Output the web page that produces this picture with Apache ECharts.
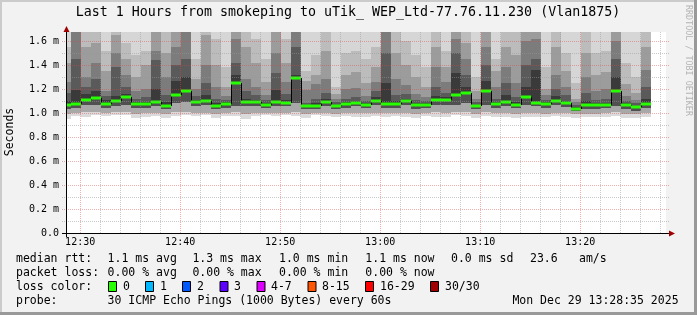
<!DOCTYPE html>
<html><head><meta charset="utf-8">
<script src="https://cdn.jsdelivr.net/npm/echarts@6/dist/echarts.min.js"></script>
<style>html,body{margin:0;padding:0;background:#f2f2f2}#c{width:697px;height:315px}</style>
</head><body><div id="c"></div>
<script>
// ---- axis / time settings (minutes after 12:00) ----
const windowStartLabel = '12:28:35';
const firstBarLabel = '12:28';
const xTickLabels = ['12:30','12:40','12:50','13:00','13:10','13:20'];
const yTickValues = [0, 0.2, 0.4, 0.6, 0.8, 1.0, 1.2, 1.4, 1.6];

// ---- median rtt per minute (ms) ----
const median = [1.064,1.075,1.106,1.122,1.075,1.097,1.131,1.075,1.075,1.092,
 1.058,1.147,1.180,1.092,1.100,1.056,1.072,1.247,1.092,1.092,
 1.067,1.092,1.086,1.294,1.056,1.056,1.092,1.056,1.075,1.086,
 1.067,1.100,1.075,1.075,1.100,1.064,1.067,1.106,1.106,1.147,
 1.169,1.058,1.180,1.075,1.092,1.067,1.133,1.086,1.075,1.103,
 1.083,1.036,1.064,1.064,1.067,1.180,1.064,1.047,1.072];
// ---- smoke: lower ping ranks (lightest bottom -> darkest) ----
const low3 = [0.95,0.978,0.97,0.985,0.975,0.985,0.98,0.96,0.967,0.978,
 0.955,0.978,0.985,0.978,0.98,0.96,0.978,0.978,0.95,0.978,
 0.98,0.978,0.98,0.978,0.955,0.98,0.975,0.97,0.975,0.97,
 0.965,0.975,0.97,0.975,0.97,0.96,0.975,0.97,0.97,0.98,
 0.975,0.96,0.975,0.965,0.97,0.96,0.97,0.97,0.965,0.975,
 0.97,0.955,0.965,0.97,0.97,0.975,0.96,0.955,0.965];
const low2 = [0.99,1.0,1.005,1.01,1.0,1.005,1.005,0.995,1.0,1.0,
 0.99,1.005,1.01,1.0,1.0,0.99,1.0,1.005,0.995,1.0,
 1.0,1.0,1.0,1.01,0.99,1.0,1.0,0.995,1.0,1.0,
 1.0,1.0,1.0,1.0,1.0,0.995,1.0,1.005,1.0,1.005,
 1.005,0.995,1.005,1.0,1.0,0.995,1.0,1.0,0.995,1.0,
 1.0,0.99,0.995,0.995,1.0,1.005,0.995,0.99,1.0];
const low1 = [1.035,1.045,1.07,1.07,1.045,1.06,1.07,1.045,1.045,1.06,
 1.03,1.08,1.09,1.06,1.065,1.03,1.045,1.06,1.06,1.06,
 1.04,1.06,1.055,1.08,1.03,1.03,1.06,1.03,1.045,1.055,
 1.04,1.065,1.045,1.045,1.065,1.035,1.04,1.07,1.07,1.07,
 1.08,1.03,1.07,1.045,1.06,1.04,1.07,1.055,1.045,1.07,
 1.05,1.015,1.035,1.035,1.04,1.06,1.035,1.02,1.045];
// ---- smoke: upper ping ranks (darkest -> lightest) ----
const up1 = [1.10,1.19,1.16,1.18,1.11,1.14,1.16,1.09,1.09,1.20,
 1.09,1.27,1.30,1.11,1.15,1.08,1.09,1.32,1.12,1.11,
 1.08,1.19,1.11,1.32,1.07,1.08,1.12,1.07,1.09,1.10,
 1.08,1.13,1.25,1.10,1.12,1.08,1.08,1.14,1.13,1.33,
 1.22,1.07,1.27,1.09,1.15,1.09,1.22,1.36,1.09,1.14,
 1.10,1.05,1.10,1.08,1.08,1.30,1.08,1.06,1.12];
const up2 = [1.17,1.45,1.22,1.28,1.14,1.38,1.22,1.12,1.13,1.44,
 1.15,1.40,1.45,1.14,1.25,1.12,1.11,1.42,1.18,1.15,
 1.11,1.33,1.16,1.55,1.08,1.12,1.17,1.09,1.12,1.13,
 1.10,1.18,1.50,1.15,1.16,1.11,1.10,1.22,1.17,1.50,
 1.32,1.09,1.40,1.12,1.25,1.13,1.40,1.45,1.11,1.20,
 1.15,1.07,1.17,1.11,1.12,1.45,1.10,1.08,1.22];
const up3 = [1.26,1.70,1.30,1.42,1.18,1.50,1.32,1.18,1.20,1.52,
 1.30,1.55,1.68,1.20,1.40,1.22,1.14,1.62,1.28,1.22,
 1.15,1.50,1.26,1.70,1.19,1.24,1.28,1.12,1.20,1.21,
 1.14,1.26,1.70,1.28,1.23,1.16,1.13,1.38,1.26,1.62,
 1.45,1.12,1.55,1.22,1.38,1.25,1.60,1.62,1.15,1.32,
 1.22,1.09,1.30,1.18,1.20,1.60,1.14,1.11,1.36];
const up4 = [1.42,1.75,1.55,1.58,1.35,1.65,1.45,1.30,1.40,1.68,
 1.50,1.72,1.75,1.28,1.65,1.40,1.22,1.75,1.55,1.42,
 1.26,1.68,1.42,1.75,1.27,1.32,1.52,1.16,1.32,1.34,
 1.25,1.38,1.75,1.50,1.40,1.30,1.22,1.55,1.38,1.72,
 1.58,1.18,1.68,1.35,1.55,1.48,1.72,1.72,1.20,1.55,
 1.35,1.12,1.50,1.32,1.34,1.72,1.24,1.17,1.55];
const up5 = [1.55,1.80,1.70,1.72,1.52,1.75,1.58,1.48,1.52,1.75,
 1.70,1.80,1.80,1.45,1.75,1.62,1.38,1.80,1.72,1.62,
 1.45,1.75,1.62,1.80,1.35,1.48,1.70,1.22,1.50,1.52,
 1.45,1.55,1.80,1.70,1.60,1.48,1.38,1.70,1.52,1.80,
 1.72,1.30,1.75,1.45,1.70,1.70,1.80,1.80,1.38,1.70,
 1.50,1.25,1.68,1.50,1.52,1.80,1.42,1.30,1.70];

// ---- helpers ----
function toMin(s){ const p = s.split(':').map(Number); return (p[0]-12)*60 + p[1] + (p[2]||0)/60; }
function fmtMin(v){ const t = Math.round(v); return (12+Math.floor(t/60)) + ':' + String(t%60).padStart(2,'0'); }
const xMin = toMin(windowStartLabel);
const xMax = xMin + 60;
const firstBar = toMin(firstBarLabel);
const Y_MAX = 1.675;
const MONO = '"DejaVu Sans Mono", monospace';
const SMOKE = ['#dadada','#a8a8a8','#505050','#3a3a3a','#5a5a5a','#7c7c7c','#9c9c9c','#bcbcbc','#d6d6d6'];

const bars = median.map((m, i) => [firstBar+i, firstBar+i+1, m, low3[i], low2[i], low1[i],
  up1[i], up2[i], up3[i], up4[i], up5[i], i > 0 ? median[i-1] : m]);

const gridItems = [];
for (let m = Math.ceil(xMin/2)*2; m < xMax; m += 2) gridItems.push([0, m, m % 10 === 0 ? 1 : 0]);
for (let k = 1; k <= 16; k++) gridItems.push([1, k/10, k % 2 === 0 ? 1 : 0]);

function renderSmoke(params, api){
  const x0 = api.value(0), x1 = api.value(1), m = api.value(2);
  const lv = [api.value(3), api.value(4), api.value(5), m, api.value(6), api.value(7),
              api.value(8), api.value(9), api.value(10), Y_MAX];
  const left = Math.ceil(api.coord([x0, 0])[0]);
  const right = Math.ceil(api.coord([x1, 0])[0]);
  const ch = [];
  for (let j = 0; j < lv.length-1; j++){
    const lo = Math.min(lv[j], Y_MAX), hi = Math.min(lv[j+1], Y_MAX);
    if (hi <= lo) continue;
    const yb = Math.round(api.coord([x0, lo])[1]);
    const yt = Math.round(api.coord([x0, hi])[1]);
    ch.push({type:'rect', shape:{x:left, y:yt, width:right-left, height:yb-yt}, style:{fill:SMOKE[j]}});
  }
  const ym = Math.round(api.coord([x0, m])[1]);
  const yp = Math.round(api.coord([x0, api.value(11)])[1]);
  if (yp !== ym) ch.push({type:'line', shape:{x1:left+0.5, y1:yp, x2:left+0.5, y2:ym}, style:{stroke:'#000', lineWidth:1}});
  ch.push({type:'rect', shape:{x:left, y:ym-1.5, width:right-left, height:3}, style:{fill:'#26ff00'}});
  return {type:'group', children: ch};
}

function renderGrid(params, api){
  const kind = api.value(0), v = api.value(1), major = api.value(2);
  const stroke = major ? 'rgba(225,70,70,0.42)' : 'rgba(150,150,150,0.5)';
  if (kind === 0){
    const p = api.coord([v, 0]), q = api.coord([v, Y_MAX]);
    const x = Math.round(p[0]) + 0.5;
    return {type:'line', shape:{x1:x, y1:p[1], x2:x, y2:q[1]}, style:{stroke, lineWidth:1, lineDash:[1,1]}};
  }
  const p = api.coord([xMin, v]), q = api.coord([xMax, v]);
  const y = Math.round(p[1]) + 0.5;
  return {type:'line', shape:{x1:p[0]-4, y1:y, x2:q[0]+3, y2:y}, style:{stroke, lineWidth:1, lineDash:[1,1]}};
}

const chart = echarts.init(document.getElementById('c'));
const txt = (x, y, s) => ({type:'text', x, y, style:{text:s, font:'11.5px '+MONO, fill:'#000', textVerticalAlign:'middle'}});
const lossColors = [['0','#26ff00',108,123],['1','#00b8ff',145,160],['2','#0059ff',182,197],['3','#5e00ff',219.5,234],
  ['4-7','#dd00ff',256.5,271],['8-15','#ff5500',307.5,322],['16-29','#ff0000',365,380],['30/30','#a00000',430,445]];
const graphics = [
  {type:'rect', shape:{x:0,y:0,width:697,height:2}, style:{fill:'#cbcbcb'}},
  {type:'rect', shape:{x:0,y:0,width:2,height:315}, style:{fill:'#cbcbcb'}},
  {type:'rect', shape:{x:694,y:0,width:3,height:315}, style:{fill:'#999'}},
  {type:'rect', shape:{x:0,y:312,width:697,height:3}, style:{fill:'#999'}},
  {type:'text', x:348, y:13, style:{text:'Last 1 Hours from smokeping to uTik_ WEP_Ltd-77.76.11.230 (Vlan1875)', font:'13.3px '+MONO, fill:'#000', textAlign:'center', textVerticalAlign:'middle'}},
  {type:'text', x:688, y:5, rotation:-Math.PI/2, style:{text:'RRDTOOL / TOBI OETIKER', font:'8.4px '+MONO, fill:'#b4b4b4', textAlign:'left', textVerticalAlign:'middle'}},
  {type:'text', x:10, y:132, rotation:Math.PI/2, style:{text:'Seconds', font:'11.5px '+MONO, fill:'#000', textAlign:'center', textVerticalAlign:'middle'}},
  {type:'line', shape:{x1:62, y1:233.5, x2:670, y2:233.5}, style:{stroke:'#000', lineWidth:1}, z:10},
  {type:'line', shape:{x1:66.5, y1:237, x2:66.5, y2:31}, style:{stroke:'#000', lineWidth:1}, z:10},
  {type:'polygon', shape:{points:[[669,230.5],[675,233.5],[669,236.5]]}, style:{fill:'#a00000'}, z:10},
  {type:'polygon', shape:{points:[[63.5,32],[66.5,26],[69.5,32]]}, style:{fill:'#a00000'}, z:10},
  txt(16,259,'median rtt:'), txt(107.6,259,'1.1 ms avg'), txt(192.4,259,'1.3 ms max'), txt(279,259,'1.0 ms min'),
  txt(365.3,259,'1.1 ms now'), txt(451,259,'0.0 ms sd'), txt(530,259,'23.6'), txt(579,259,'am/s'),
  txt(16,273,'packet loss:'), txt(107.6,273,'0.00 % avg'), txt(192.4,273,'0.00 % max'), txt(279,273,'0.00 % min'), txt(365.3,273,'0.00 % now'),
  txt(16,287,'loss color:'),
  txt(16,301,'probe:'), txt(107.6,301,'30 ICMP Echo Pings (1000 Bytes) every 60s'), txt(512.4,301,'Mon Dec 29 13:28:35 2025')
];
lossColors.forEach(([lab, col, bx, tx]) => {
  graphics.push({type:'rect', shape:{x:bx+0.5, y:281.5, width:8, height:10}, style:{fill:col, stroke:'#000', lineWidth:1}});
  graphics.push(txt(tx, 287, lab));
});

chart.setOption({
  animation: false,
  backgroundColor: '#f2f2f2',
  grid: {left: 66, top: 32, width: 600, height: 201, show: true, backgroundColor: '#fff', borderWidth: 0},
  xAxis: {type:'value', min:xMin, max:xMax,
    axisLine:{show:false}, axisTick:{show:false}, splitLine:{show:false},
    axisLabel:{customValues: xTickLabels.map(toMin), formatter: fmtMin, margin: 4,
      fontFamily:'DejaVu Sans Mono', fontSize:10, color:'#000'}},
  yAxis: {type:'value', min:0, max:Y_MAX, interval:0.2,
    axisLine:{show:false}, axisTick:{show:false}, splitLine:{show:false},
    axisLabel:{customValues: yTickValues, margin: 7, fontFamily:'DejaVu Sans Mono', fontSize:10, color:'#000',
      formatter: v => v === 0 ? '0.0' : v.toFixed(1) + ' m'}},
  series: [
    {type:'custom', data: bars, renderItem: renderSmoke, clip: true, z: 2, silent: true,
     encode:{x:[0,1], y:2}},
    {type:'custom', data: gridItems, renderItem: renderGrid, clip: false, z: 5, silent: true,
     encode:{x:1, y:1}}
  ],
  graphic: graphics
});
</script></body></html>
